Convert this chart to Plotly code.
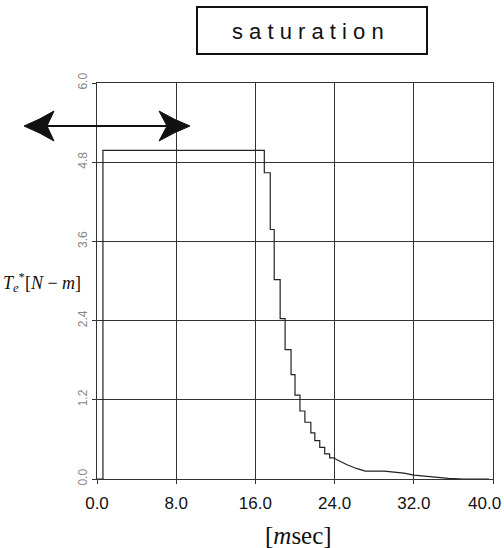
import plotly.graph_objects as go

# step part of the torque command (held values, hv steps)
step_t = [0.0, 0.6, 16.9, 17.5, 17.9, 18.5, 19.0, 19.6, 20.0, 20.5, 21.0, 21.6, 22.0, 22.5, 23.0, 23.5, 24.0]
step_v = [0.0, 4.98, 4.64, 3.78, 3.02, 2.43, 1.96, 1.58, 1.27, 1.03, 0.86, 0.70, 0.58, 0.48, 0.38, 0.32, 0.31]
# smooth tail
tail_t = [24.0, 25.2, 26.2, 27.1, 29.0, 30.0, 31.0, 32.0, 33.5, 35.5, 37.0, 39.6]
tail_v = [0.31, 0.22, 0.16, 0.12, 0.12, 0.11, 0.09, 0.06, 0.035, 0.01, 0.0, 0.0]

x_ticks = [0, 8, 16, 24, 32, 40]
x_labels = ["0.0", "8.0", "16.0", "24.0", "32.0", "40.0"]
y_ticks = [0, 1.2, 2.4, 3.6, 4.8, 6.0]
y_labels = ["0.0", "1.2", "2.4", "3.6", "4.8", "6.0"]

L, R, T, B = 97, 11, 83, 69
W, H = 504, 548
pw, ph = W - L - R, H - T - B

def px(x):
    return (x - L) / pw

def py(y):
    return (H - B - y) / ph

fig = go.Figure()
fig.add_trace(go.Scatter(x=step_t, y=step_v, mode="lines", line=dict(color="#222", width=1.2, shape="hv"),
                         showlegend=False, hoverinfo="skip"))
fig.add_trace(go.Scatter(x=tail_t, y=tail_v, mode="lines", line=dict(color="#222", width=1.2),
                         showlegend=False, hoverinfo="skip"))

# title box
shapes = [dict(type="rect", xref="paper", yref="paper", x0=px(197), x1=px(427), y0=py(54), y1=py(7),
               line=dict(color="#111", width=2))]

# double arrow
def head(tip, back, notch, yc, half):
    return (f"M{px(tip)},{py(yc)} Q{px((tip+back)/2)},{py(yc-half*0.4)} {px(back)},{py(yc-half)} "
            f"L{px(notch)},{py(yc)} L{px(back)},{py(yc+half)} Q{px((tip+back)/2)},{py(yc+half*0.4)} {px(tip)},{py(yc)} Z")

yc = 126
shapes.append(dict(type="line", xref="paper", yref="paper", x0=px(45), x1=px(168), y0=py(yc), y1=py(yc),
                   line=dict(color="#111", width=2)))
shapes.append(dict(type="path", xref="paper", yref="paper", path=head(24, 54, 47, yc, 15),
                   fillcolor="#111", line=dict(color="#111", width=1)))
shapes.append(dict(type="path", xref="paper", yref="paper", path=head(190, 159, 167, yc, 15),
                   fillcolor="#111", line=dict(color="#111", width=1)))

tick_font = dict(family="Liberation Sans, Arial", size=17, color="#111")
shown_x_labels = [lab if v != x_ticks[-1] else "" for v, lab in zip(x_ticks, x_labels)]

annotations = [
    dict(text="s a t u r a t i o n", xref="paper", yref="paper", x=px(308), y=py(32), showarrow=False,
         font=dict(family="Liberation Sans, Arial", size=22, color="#111"), xanchor="center", yanchor="middle"),
    dict(text="[<i>m</i>sec]", xref="paper", yref="paper", x=px(298), y=py(535), showarrow=False,
         font=dict(family="Liberation Serif, Times New Roman", size=25, color="#111"), xanchor="center", yanchor="middle"),
    dict(text="<i>T</i><sub><i>e</i></sub><sup>*</sup>[<i>N</i> − <i>m</i>]", xref="paper", yref="paper",
         x=px(83), y=py(282), showarrow=False,
         font=dict(family="Liberation Serif, Times New Roman", size=18, color="#111"), xanchor="right", yanchor="middle"),
    # last x tick label sits flush with the right edge, as in the original
    dict(text=x_labels[-1], xref="x", yref="paper", x=x_ticks[-1], y=py(503), xshift=9, showarrow=False,
         font=tick_font, xanchor="right", yanchor="middle", borderpad=0),
]

fig.update_layout(
    width=W, height=H, margin=dict(l=L, r=R, t=T, b=B, autoexpand=False),
    paper_bgcolor="white", plot_bgcolor="white",
    shapes=shapes, annotations=annotations,
    xaxis=dict(range=[0, 40], tickvals=x_ticks, ticktext=shown_x_labels, showgrid=True, gridcolor="#333", gridwidth=1,
               zeroline=False, showline=True, linecolor="#333", linewidth=1, mirror=True, automargin=False,
               ticks="outside", ticklen=4, tickcolor="#333", ticklabelstandoff=5,
               tickfont=tick_font),
    yaxis=dict(range=[0, 6], tickvals=y_ticks, ticktext=y_labels, showgrid=True, gridcolor="#333", gridwidth=1,
               zeroline=False, showline=True, linecolor="#333", linewidth=1, mirror=True, automargin=False,
               ticks="outside", ticklen=4, tickcolor="#333", tickangle=-90,
               tickfont=dict(family="Liberation Sans, Arial", size=12, color="#888")),
)

fig.write_html("out.html", config={"displayModeBar": False},
               post_script="document.body.style.margin='0';document.body.style.overflow='hidden';")
